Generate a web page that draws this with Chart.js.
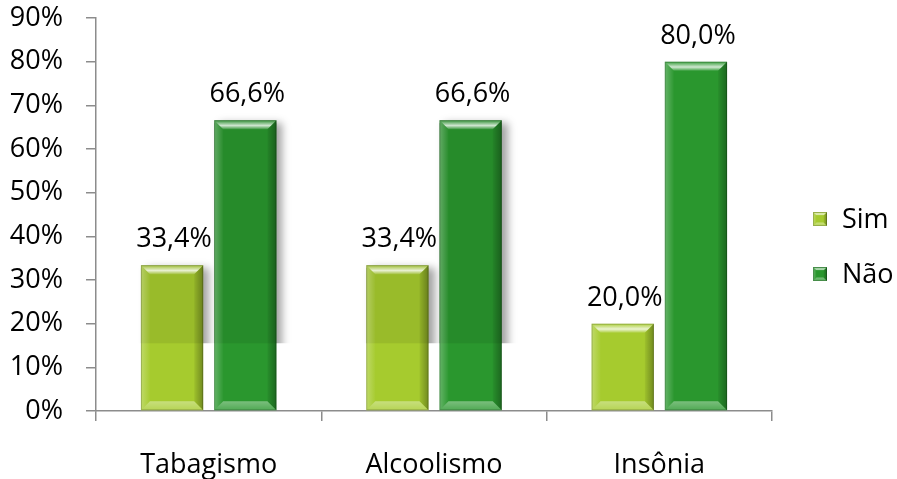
<!DOCTYPE html>
<html lang="pt">
<head>
<meta charset="utf-8">
<title>Tabagismo, Alcoolismo e Insônia</title>
<script src="https://cdn.jsdelivr.net/npm/chart.js@4.4.1/dist/chart.umd.min.js"></script>
<style>
  html, body { margin: 0; padding: 0; background: #ffffff; }
  #wrap { width: 897px; height: 479px; }
</style>
</head>
<body>
<div id="wrap"><canvas id="chart" width="897" height="479"></canvas></div>
<script>
// Categorias e percentuais
const categories = ['Tabagismo', 'Alcoolismo', 'Insônia'];
const simValues = [33.4, 33.4, 20.0];
const naoValues = [66.6, 66.6, 80.0];
const seriesNames = ['Sim', 'Não'];
const yTickMin = 0;
const yTickMax = 90;
const yTickStep = 10;

const FONT = { family: "'Open Sans', 'Noto Sans', sans-serif", size: 27 };
const AXIS_GRAY = '#8c8c8c';

function fmtPct(v) {
  return v.toFixed(1).replace('.', ',') + '%';
}

function poly(ctx, pts) {
  ctx.beginPath();
  ctx.moveTo(pts[0][0], pts[0][1]);
  for (let i = 1; i < pts.length; i++) ctx.lineTo(pts[i][0], pts[i][1]);
  ctx.closePath();
  ctx.fill();
}

// Chanfro simples: laterais, topo iluminado e base clara
function bevel(ctx, l, t, r, b, depth) {
  const w = r - l, h = b - t;
  const d = Math.max(2, Math.min(depth, w / 4, h / 3));
  let g;
  g = ctx.createLinearGradient(r - d, 0, r, 0);
  g.addColorStop(0, 'rgba(0,0,0,0.05)');
  g.addColorStop(1, 'rgba(0,0,0,0.32)');
  ctx.fillStyle = g;
  poly(ctx, [[r - d, t + d], [r, t], [r, b], [r - d, b - d]]);

  g = ctx.createLinearGradient(l, 0, l + d, 0);
  g.addColorStop(0, 'rgba(255,255,255,0.28)');
  g.addColorStop(1, 'rgba(255,255,255,0.02)');
  ctx.fillStyle = g;
  poly(ctx, [[l, t], [l + d, t + d], [l + d, b - d], [l, b]]);

  g = ctx.createLinearGradient(0, t, 0, t + d);
  g.addColorStop(0, 'rgba(255,255,255,0.05)');
  g.addColorStop(0.6, 'rgba(255,255,255,0.78)');
  g.addColorStop(1, 'rgba(255,255,255,0.12)');
  ctx.fillStyle = g;
  poly(ctx, [[l, t], [r, t], [r - d, t + d], [l + d, t + d]]);

  g = ctx.createLinearGradient(0, b - d, 0, b);
  g.addColorStop(0, 'rgba(255,255,255,0.38)');
  g.addColorStop(1, 'rgba(255,255,255,0.18)');
  ctx.fillStyle = g;
  poly(ctx, [[l + d, b - d], [r - d, b - d], [r, b], [l, b]]);

  ctx.strokeStyle = 'rgba(0,0,0,0.18)';
  ctx.lineWidth = 1;
  ctx.strokeRect(l + 0.5, t + 0.5, w - 1, h - 1);
}

function barRect(el) {
  const p = el.getProps(['x', 'y', 'base', 'width'], true);
  return { l: p.x - p.width / 2, r: p.x + p.width / 2, t: Math.min(p.y, p.base), b: Math.max(p.y, p.base) };
}

// Sombra cinza atrás das barras, cortada num nível fixo do eixo
const barShadow = {
  id: 'barShadow',
  beforeDatasetsDraw(chart, args, opts) {
    const ctx = chart.ctx, area = chart.chartArea;
    const yFloor = chart.scales.y.getPixelForValue(opts.floor);
    ctx.save();
    ctx.beginPath();
    ctx.rect(area.left, area.top, area.right - area.left, yFloor - area.top);
    ctx.clip();
    chart.data.datasets.forEach((ds, di) => {
      const meta = chart.getDatasetMeta(di);
      opts.indices.forEach(i => {
        const r = barRect(meta.data[i]);
        ctx.shadowColor = 'rgba(0,0,0,0.36)';
        ctx.shadowBlur = 8;
        ctx.shadowOffsetX = 6;
        ctx.fillStyle = '#9a9a9a';
        ctx.fillRect(r.l, r.t + 3, r.r - r.l, r.b - r.t - 3);
      });
    });
    ctx.restore();
  },
  afterDatasetsDraw(chart, args, opts) {
    const ctx = chart.ctx;
    const yFloor = chart.scales.y.getPixelForValue(opts.floor);
    ctx.save();
    chart.data.datasets.forEach((ds, di) => {
      const meta = chart.getDatasetMeta(di);
      opts.indices.forEach(i => {
        const r = barRect(meta.data[i]);
        ctx.fillStyle = 'rgba(0,0,0,0.08)';
        ctx.fillRect(r.l, r.t, r.r - r.l, Math.max(0, yFloor - r.t));
      });
    });
    ctx.restore();
  }
};

// Chanfro e rótulos de valor em cada barra
const barDecor = {
  id: 'barDecor',
  afterDatasetsDraw(chart) {
    const ctx = chart.ctx;
    ctx.save();
    chart.data.datasets.forEach((ds, di) => {
      const meta = chart.getDatasetMeta(di);
      meta.data.forEach((el, i) => {
        const r = barRect(el);
        bevel(ctx, r.l, r.t, r.r, r.b, 9);
        ctx.fillStyle = '#000';
        ctx.font = FONT.size + 'px ' + FONT.family;
        ctx.textAlign = 'center';
        ctx.textBaseline = 'alphabetic';
        ctx.fillText(fmtPct(ds.data[i]), (r.l + r.r) / 2 + 2, r.t - 18);
      });
    });
    ctx.restore();
  }
};

// Legenda lateral
const sideLegend = {
  id: 'sideLegend',
  afterDraw(chart, args, opts) {
    const ctx = chart.ctx;
    ctx.save();
    chart.data.datasets.forEach((ds, i) => {
      const cy = opts.y + i * opts.spacing;
      const s = 14;
      const l = opts.x, t = cy - s / 2;
      ctx.fillStyle = ds.backgroundColor;
      ctx.fillRect(l, t, s, s);
      bevel(ctx, l, t, l + s, t + s, 3.5);
      ctx.fillStyle = '#000';
      ctx.font = FONT.size + 'px ' + FONT.family;
      ctx.textAlign = 'left';
      ctx.textBaseline = 'middle';
      ctx.fillText(ds.label, l + 29, cy + 1);
    });
    ctx.restore();
  }
};

new Chart(document.getElementById('chart'), {
  type: 'bar',
  data: {
    labels: categories,
    datasets: [
      { label: seriesNames[0], data: simValues, backgroundColor: '#a6cb2e' },
      { label: seriesNames[1], data: naoValues, backgroundColor: '#2a972e' }
    ]
  },
  options: {
    responsive: false,
    devicePixelRatio: 1,
    animation: false,
    layout: { padding: { left: 0, top: 0, right: 125, bottom: 0 } },
    datasets: {
      bar: { categoryPercentage: 0.65, barPercentage: 0.85, borderWidth: 0 }
    },
    scales: {
      x: {
        offset: true,
        grid: { offset: true, drawOnChartArea: false, drawTicks: true, tickLength: 10, color: AXIS_GRAY, lineWidth: 1.5 },
        border: { color: AXIS_GRAY, width: 1.5 },
        ticks: { color: '#000', font: FONT, padding: 28, maxRotation: 0 },
        afterFit(s) { s.height = 68; }
      },
      y: {
        min: yTickMin,
        max: yTickMax,
        grid: { drawOnChartArea: false, drawTicks: true, tickLength: 10, color: AXIS_GRAY, lineWidth: 1.5 },
        border: { color: AXIS_GRAY, width: 1.5 },
        ticks: { stepSize: yTickStep, color: '#000', font: FONT, padding: 23, callback: v => v + '%' },
        afterFit(s) { s.width = 96; s.paddingTop = 18; s.paddingBottom = 0; }
      }
    },
    plugins: {
      legend: { display: false },
      tooltip: { enabled: false },
      barShadow: { indices: [0, 1], floor: 15.5 },
      sideLegend: { x: 813, y: 219, spacing: 55 }
    }
  },
  plugins: [barShadow, barDecor, sideLegend]
});
</script>
</body>
</html>
